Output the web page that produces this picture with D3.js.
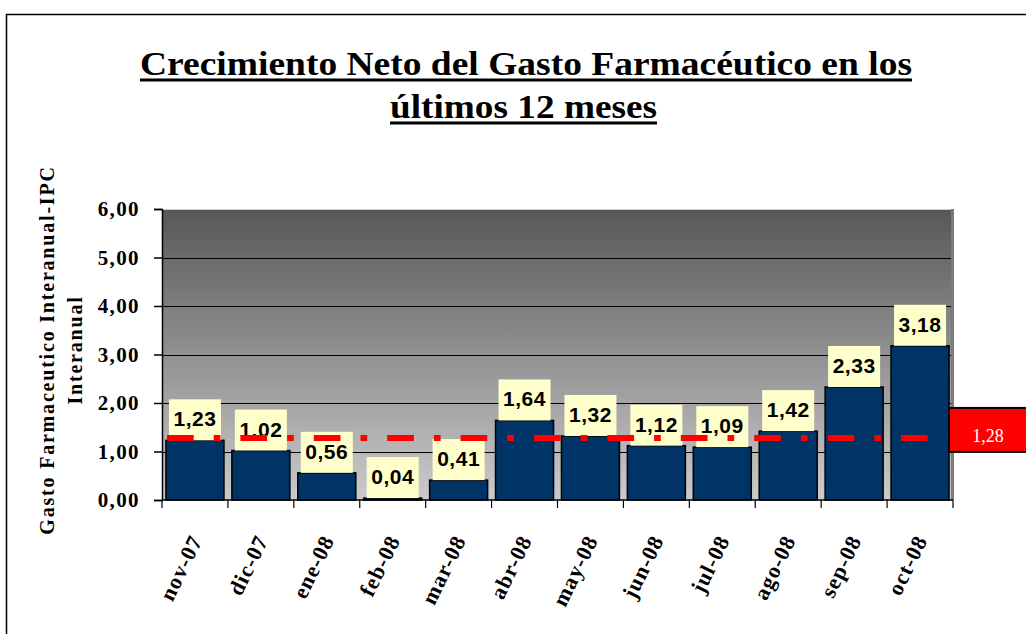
<!DOCTYPE html>
<html>
<head>
<meta charset="utf-8">
<script src="https://cdn.jsdelivr.net/npm/d3@7"></script>
<style>
  html, body { margin: 0; padding: 0; background: #fff; }
  svg { display: block; }
</style>
</head>
<body>
<svg id="chart" width="1026" height="634"></svg>
<script>
// ---- data ----
const categories = ["nov-07","dic-07","ene-08","feb-08","mar-08","abr-08","may-08","jun-08","jul-08","ago-08","sep-08","oct-08"];
const values = [1.23, 1.02, 0.56, 0.04, 0.41, 1.64, 1.32, 1.12, 1.09, 1.42, 2.33, 3.18];
const averageValue = 1.28;
const yTicks = [0, 1, 2, 3, 4, 5, 6];
const titleLines = ["Crecimiento Neto del Gasto Farmacéutico en los", "últimos 12 meses"];
const yTitleLines = ["Gasto Farmaceutico Interanual-IPC", "Interanual"];

// ---- setup ----
const svg = d3.select("#chart");
const W = 1026, H = 634;
const plot = { left: 162, right: 953, top: 209, bottom: 500 };
const serif = "'Liberation Serif', 'Times New Roman', serif";

const locale = d3.formatLocale({ decimal: ",", thousands: ".", grouping: [3], currency: ["", "€"] });
const fmt = locale.format(".2f");

const x = d3.scaleBand().domain(categories).range([plot.left, plot.right]).paddingInner(0.12).paddingOuter(0.06);
const y = d3.scaleLinear().domain([0, 6]).range([plot.bottom, plot.top]);

// outer frame
svg.append("rect").attr("x", 6.5).attr("y", 14.5).attr("width", W + 10).attr("height", H + 10)
  .attr("fill", "#fff").attr("stroke", "#000").attr("stroke-width", 1.5);

// title (condensed tall Times look)
const titleSpec = [
  { x: 140, w: 772, base: 75 },
  { x: 390, w: 267, base: 118 }
];
titleLines.forEach((t, i) => {
  const s = titleSpec[i];
  svg.append("text")
    .attr("x", s.x).attr("y", s.base)
    .attr("font-family", serif)
    .attr("font-weight", "bold").attr("font-size", 34)
    .attr("textLength", s.w).attr("lengthAdjust", "spacingAndGlyphs")
    .text(t);
  svg.append("line")
    .attr("x1", s.x).attr("x2", s.x + s.w)
    .attr("y1", s.base + 5).attr("y2", s.base + 5)
    .attr("stroke", "#000").attr("stroke-width", 3);
});

// background gradient
const defs = svg.append("defs");
const grad = defs.append("linearGradient").attr("id", "bg").attr("x1", 0).attr("y1", 0).attr("x2", 0).attr("y2", 1);
grad.append("stop").attr("offset", "0%").attr("stop-color", "#575757");
grad.append("stop").attr("offset", "100%").attr("stop-color", "#cbcbcb");

svg.append("rect")
  .attr("x", plot.left).attr("y", plot.top)
  .attr("width", plot.right - plot.left).attr("height", plot.bottom - plot.top)
  .attr("fill", "url(#bg)");

// top light edge and right gray edge
svg.append("line").attr("x1", plot.left).attr("x2", plot.right).attr("y1", plot.top + 0.5).attr("y2", plot.top + 0.5)
  .attr("stroke", "#cfcfcf").attr("stroke-width", 1);
svg.append("line").attr("x1", plot.right - 0.5).attr("x2", plot.right - 0.5).attr("y1", plot.top).attr("y2", plot.bottom)
  .attr("stroke", "#7a7a7a").attr("stroke-width", 3);

// gridlines
svg.append("g").selectAll("line").data(yTicks.filter(d => d > 0 && d < 6)).join("line")
  .attr("x1", plot.left).attr("x2", plot.right - 2)
  .attr("y1", d => Math.round(y(d)) + 0.5).attr("y2", d => Math.round(y(d)) + 0.5)
  .attr("stroke", "#000").attr("stroke-width", 1);

// y axis
const yAxis = d3.axisLeft(y).tickValues(yTicks).tickSize(8).tickPadding(14).tickFormat(d => fmt(d));
const gy = svg.append("g").attr("transform", `translate(${plot.left},0)`).call(yAxis);
gy.select(".domain").attr("stroke", "#000").attr("stroke-width", 1.5);
gy.selectAll(".tick line").attr("stroke", "#000").attr("stroke-width", 1.5);
gy.selectAll(".tick text")
  .attr("font-family", serif)
  .attr("font-weight", "bold").attr("font-size", 21).attr("letter-spacing", 1.4)
  .attr("fill", "#000");

// y title
yTitleLines.forEach((t, i) => {
  svg.append("text")
    .attr("transform", `translate(${54 + i * 28},350) rotate(-90)`)
    .attr("text-anchor", "middle")
    .attr("font-family", serif)
    .attr("font-weight", "bold").attr("font-size", 20).attr("letter-spacing", 1.8)
    .text(t);
});

// bars
svg.append("g").selectAll("rect").data(values).join("rect")
  .attr("x", (d, i) => x(categories[i]))
  .attr("y", d => y(d))
  .attr("width", x.bandwidth())
  .attr("height", d => y(0) - y(d))
  .attr("fill", "#003366")
  .attr("stroke", "#000").attr("stroke-width", 1.5);

// x axis
const xBoundaries = d3.range(categories.length + 1).map(i => plot.left + i * x.step());
svg.append("line").attr("x1", plot.left).attr("x2", plot.right).attr("y1", plot.bottom).attr("y2", plot.bottom)
  .attr("stroke", "#000").attr("stroke-width", 1.5);
svg.append("g").selectAll("line").data(xBoundaries).join("line")
  .attr("x1", d => d).attr("x2", d => d).attr("y1", plot.bottom).attr("y2", plot.bottom + 8)
  .attr("stroke", "#000").attr("stroke-width", 1.2);

svg.append("g").selectAll("text").data(categories).join("text")
  .attr("transform", d => `translate(${x(d) + x.bandwidth() / 2 + 8},${plot.bottom + 40}) rotate(-64)`)
  .attr("text-anchor", "end")
  .attr("font-family", serif)
  .attr("font-weight", "bold").attr("font-size", 22).attr("letter-spacing", 1)
  .text(d => d);

// data label boxes
const labels = svg.append("g");
labels.selectAll("rect").data(values).join("rect")
  .attr("x", (d, i) => x(categories[i]) + x.bandwidth() / 2 - 26)
  .attr("y", d => y(d) - 41)
  .attr("width", 52).attr("height", 41)
  .attr("fill", "#ffffcc");
labels.selectAll("text").data(values).join("text")
  .attr("x", (d, i) => x(categories[i]) + x.bandwidth() / 2)
  .attr("y", d => y(d) - 14)
  .attr("text-anchor", "middle")
  .attr("font-family", "'Liberation Sans', Arial, sans-serif")
  .attr("font-weight", "bold").attr("font-size", 21).attr("letter-spacing", 0.5)
  .text(d => fmt(d));

// average dashed line
svg.append("line")
  .attr("x1", 167).attr("x2", plot.right)
  .attr("y1", y(averageValue)).attr("y2", y(averageValue))
  .attr("stroke", "#ff0000").attr("stroke-width", 6)
  .attr("stroke-dasharray", "26.7 20 6.7 20");

// average label box
svg.append("rect")
  .attr("x", 949).attr("y", y(averageValue) - 30)
  .attr("width", 90).attr("height", 44)
  .attr("fill", "#ff0000").attr("stroke", "#000").attr("stroke-width", 2);
svg.append("text")
  .attr("x", 988).attr("y", y(averageValue) + 4)
  .attr("text-anchor", "middle")
  .attr("font-family", serif)
  .attr("font-size", 18).attr("fill", "#fff")
  .text(fmt(averageValue));
</script>
</body>
</html>
